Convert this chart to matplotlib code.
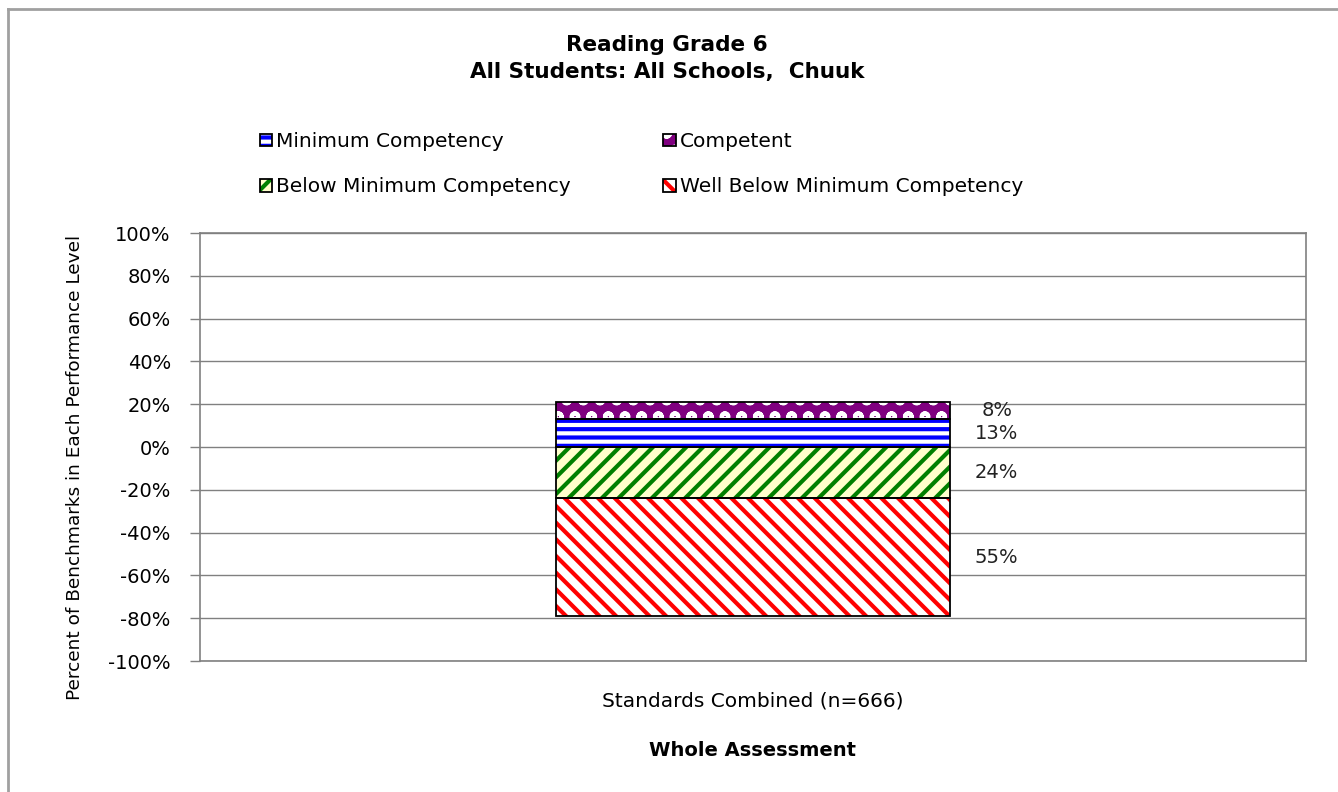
import numpy as np
import matplotlib
matplotlib.use("Agg")
from matplotlib import pyplot as plt
from matplotlib.legend_handler import HandlerTuple
from matplotlib.lines import Line2D

plt.rcParams['font.family'] = ['DejaVu Sans']
plt.rcParams['hatch.linewidth'] = 3.0

categories = ["Standards Combined (n=666)"]
competent = [8]
minimum = [13]
below = [24]
well_below = [55]
yticks = [-100, -80, -60, -40, -20, 0, 20, 40, 60, 80, 100]

fig = plt.figure(figsize=(13.38, 7.92), dpi=100)
ax = fig.add_axes([0.1495, 0.1654, 0.8265, 0.5404])

x = np.arange(len(categories))
w = 0.357
comp = np.array(competent)
mini = np.array(minimum)
belo = np.array(below)
wbel = np.array(well_below)

# hatch layers (edgecolor doubles as hatch colour), then black outlines
b_min = ax.bar(x, mini, w, bottom=0, color='white', edgecolor='#0000FF', hatch='--', linewidth=0)
b_comp = ax.bar(x, comp, w, bottom=mini, color='#800080', edgecolor='white', hatch='o', linewidth=0)
b_below = ax.bar(x, -belo, w, bottom=0, color='#FFFFCC', edgecolor='#008000', hatch='//', linewidth=0)
b_well = ax.bar(x, -wbel, w, bottom=-belo, color='white', edgecolor='#FF0000', hatch='\\\\', linewidth=0)

outlines = []
for vals, bot in [(mini, 0), (comp, mini), (-belo, 0), (-wbel, -belo)]:
    outlines.append(ax.bar(x, vals, w, bottom=bot, fill=False, edgecolor='black', linewidth=1.3))

# value labels to the right of the bar
lx = x + w / 2 + 0.042
for vals, bot in [(comp, mini), (mini, 0), (-belo, 0), (-wbel, -belo)]:
    for xi, v, b in zip(lx, vals, np.broadcast_to(bot, vals.shape)):
        ax.text(xi, b + v / 2, f"{abs(v)}%", ha='center', va='center', fontsize=14, color='#222222')

ax.set_xlim(-0.5, 0.5)
ax.set_ylim(-100, 100)
ax.set_yticks(yticks)
ax.set_yticklabels([f"{t}%" for t in yticks])
ax.set_xticks(x)
ax.set_xticklabels(categories)
ax.tick_params(axis='y', direction='out', length=7, width=1, color='#808080', labelsize=14, pad=14)
ax.tick_params(axis='x', length=0, labelsize=14.5, pad=22)
ax.yaxis.grid(True, color='#808080', linewidth=1)
ax.set_axisbelow(True)
for s in ax.spines.values():
    s.set_color('#808080')
    s.set_linewidth(1.2)

ax.set_xlabel("Whole Assessment", fontsize=14, fontweight='bold', labelpad=22)
fig.text(75 / 1338, 1 - 467 / 792, "Percent of Benchmarks in Each Performance Level",
         rotation=90, ha='center', va='center', fontsize=13.3)

fig.text(0.4985, 1 - 45 / 792, "Reading Grade 6", ha='center', va='center', fontsize=15.5, fontweight='bold')
fig.text(0.4985, 1 - 72 / 792, "All Students: All Schools,  Chuuk", ha='center', va='center',
         fontsize=15.5, fontweight='bold')

handles = [(b_min, outlines[0]), (b_below, outlines[2]), (b_comp, outlines[1]), (b_well, outlines[3])]
labels = ["Minimum Competency", "Below Minimum Competency", "Competent", "Well Below Minimum Competency"]
fig.legend(handles, labels, ncol=2, loc='upper left', bbox_to_anchor=(250 / 1338, 1 - 122 / 792),
           frameon=False, fontsize=14.5, handlelength=0.6, handleheight=0.6, handletextpad=0.2,
           columnspacing=4.6, labelspacing=1.3, borderpad=0,
           handler_map={tuple: HandlerTuple(ndivide=1)})

# outer chart border
fig.add_artist(Line2D([8 / 1338, 8 / 1338], [0, 1 - 9 / 792], transform=fig.transFigure, color='#a0a0a0', lw=2))
fig.add_artist(Line2D([8 / 1338, 1], [1 - 9 / 792, 1 - 9 / 792], transform=fig.transFigure, color='#a0a0a0', lw=2))

fig.savefig("out.png", dpi=100)
